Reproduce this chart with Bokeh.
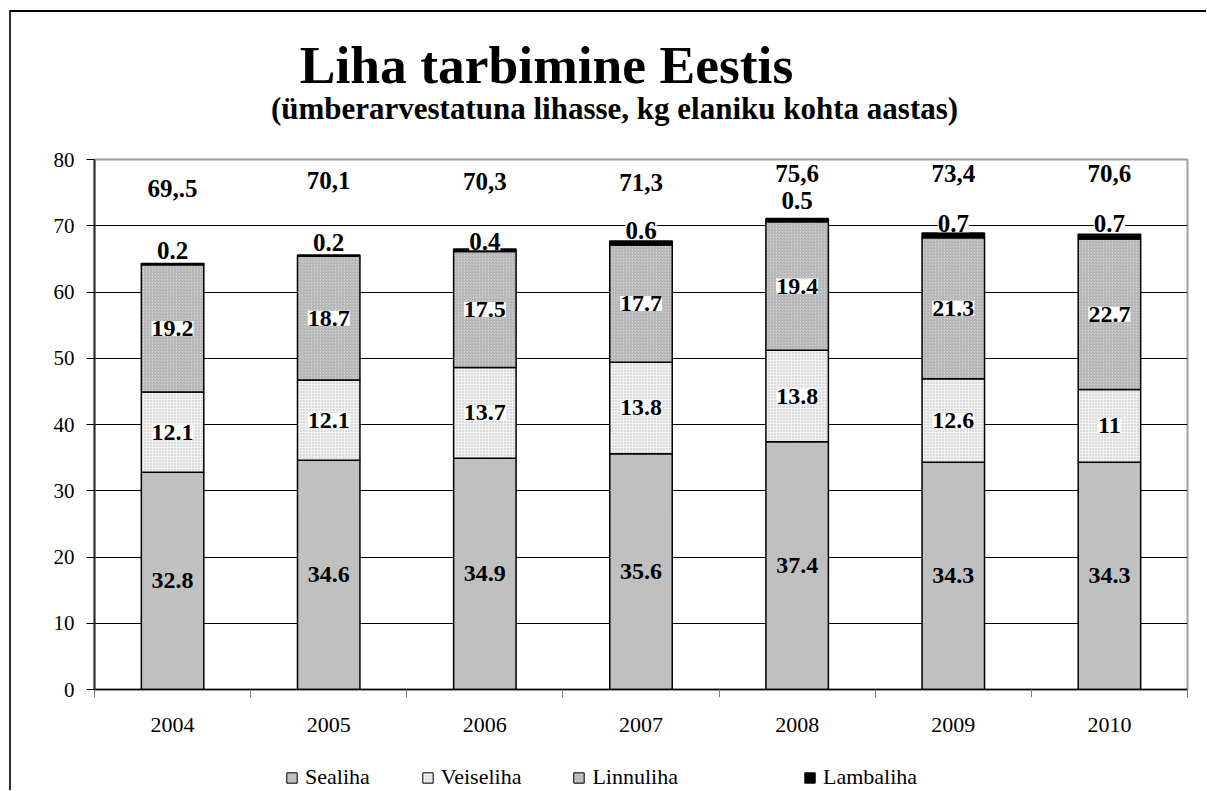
import numpy as np
from bokeh.plotting import figure
from bokeh.layouts import column
from bokeh.models import (Range1d, FixedTicker, ColumnDataSource, LabelSet, Label,
                          Legend, LegendItem)
from bokeh.core.properties import value
from bokeh.embed import file_html
from bokeh.resources import INLINE

# ---------------- data ----------------
years = ["2004", "2005", "2006", "2007", "2008", "2009", "2010"]
sealiha = [32.8, 34.6, 34.9, 35.6, 37.4, 34.3, 34.3]
veiseliha = [12.1, 12.1, 13.7, 13.8, 13.8, 12.6, 11]
linnuliha = [19.2, 18.7, 17.5, 17.7, 19.4, 21.3, 22.7]
lambaliha = [0.2, 0.2, 0.4, 0.6, 0.5, 0.7, 0.7]
total_labels = ["69,.5", "70,1", "70,3", "71,3", "75,6", "73,4", "70,6"]
series_names = ["Sealiha", "Veiseliha", "Linnuliha", "Lambaliha"]
y_ticks = [0, 10, 20, 30, 40, 50, 60, 70, 80]

# label placement (value axis units) as in the original chart
total_label_y = [75.6, 76.8, 76.7, 76.5, 77.9, 77.9, 77.9]
lamb_label_y = [66.3, 67.5, 67.6, 69.3, 73.8, 70.3, 70.3]

title_text = "Liha tarbimine Eestis"
subtitle_text = "(ümberarvestatuna lihasse, kg elaniku kohta aastas)"

FONT = "Liberation Serif"
W = 1195            # common width of the stacked panels
X0, Y0 = 11, 12     # page position of the content (after margin + border)
BL, BR = 83, 19     # left / right borders (frame spans page x 94..1187)
FX0, FX1 = X0 + BL, X0 + W - BR

# ---------------- derived ----------------
xs = [i + 0.5 for i in range(len(years))]
vals = [sealiha, veiseliha, linnuliha, lambaliha]
bottoms = np.cumsum([[0] * len(years)] + vals[:-1], axis=0)
mids = [list(np.array(b) + np.array(v) / 2) for b, v in zip(bottoms, vals)]
fmt = lambda v: f"{v:g}"

fills = ["#c0c0c0", "#f2f2f2", "#d2d2d2", "#000000"]
hatches = [" ", "dot", "right_diagonal_line", " "]
hcolors = ["#c0c0c0", "#b8b8b8", "#a0a0a0", "#000000"]
hscales = [4, 3, 3, 4]
hweights = [1, 1, 0.8, 1]


def blank_fig(h, y_top):
    f = figure(width=W, height=h, x_range=Range1d(FX0, FX1), y_range=Range1d(y_top + h, y_top),
               output_backend="svg", toolbar_location=None, title=None,
               x_axis_location=None, y_axis_location=None,
               min_border_left=BL, min_border_right=BR, min_border_top=0, min_border_bottom=0)
    f.grid.visible = False
    f.outline_line_color = None
    f.background_fill_color = "white"
    f.border_fill_color = "white"
    return f


# ---------------- header (titles) ----------------
H_HEAD = 132
head = blank_fig(H_HEAD, Y0)
HB = Y0 + H_HEAD   # page y of the header's bottom edge
head.add_layout(Label(x=546, y=HB - 64, y_units="screen", text=title_text, text_font=FONT,
                      text_font_size="53.5px", text_font_style="bold", text_align="center",
                      text_baseline="alphabetic", text_color="black"))
head.add_layout(Label(x=614, y=HB - 108, y_units="screen", text=subtitle_text, text_font=FONT,
                      text_font_size="31px", text_font_style="bold", text_align="center",
                      text_baseline="alphabetic", text_color="black"))

# ---------------- main chart ----------------
src = ColumnDataSource(dict(x=xs, Sealiha=sealiha, Veiseliha=veiseliha,
                            Linnuliha=linnuliha, Lambaliha=lambaliha))

H_MAIN = 15 + 530 + 52
p = figure(width=W, height=H_MAIN, x_range=Range1d(0, len(years)), y_range=Range1d(0, 80),
           output_backend="svg", toolbar_location=None,
           min_border_left=BL, min_border_right=BR, min_border_top=15, min_border_bottom=52)
p.title.visible = False
p.background_fill_color = "white"
p.border_fill_color = "white"
p.outline_line_color = "#a0a0a0"
p.outline_line_width = 2

p.vbar_stack(series_names, x="x", width=0.4, source=src,
             fill_color=fills, hatch_pattern=hatches, hatch_color=hcolors,
             hatch_scale=hscales, hatch_weight=hweights,
             line_color="black", line_width=1.5)

p.yaxis.ticker = FixedTicker(ticks=y_ticks)
p.yaxis.major_tick_out = 8
p.yaxis.major_tick_in = 0
p.yaxis.minor_tick_out = 0
p.yaxis.minor_tick_in = 0
p.yaxis.axis_line_color = "#303030"
p.yaxis.axis_line_width = 2
p.yaxis.major_tick_line_color = "black"
p.yaxis.major_label_text_font = FONT
p.yaxis.major_label_text_font_size = "21px"
p.yaxis.major_label_text_color = "black"
p.yaxis.major_label_standoff = 12

p.xaxis.ticker = FixedTicker(ticks=xs, minor_ticks=list(range(len(years) + 1)))
p.xaxis.major_label_overrides = {x: y for x, y in zip(xs, years)}
p.xaxis.major_tick_out = 0
p.xaxis.major_tick_in = 0
p.xaxis.minor_tick_out = 8
p.xaxis.minor_tick_in = 0
p.xaxis.minor_tick_line_color = "#808080"
p.xaxis.axis_line_color = "black"
p.xaxis.axis_line_width = 1.5
p.xaxis.major_label_text_font = FONT
p.xaxis.major_label_text_font_size = "22px"
p.xaxis.major_label_text_color = "black"
p.xaxis.major_label_standoff = 20

p.xgrid.visible = False
p.ygrid.ticker = FixedTicker(ticks=y_ticks[1:-1])
p.ygrid.grid_line_color = "black"
p.ygrid.grid_line_width = 1

lab_common = dict(text_font=value(FONT), text_font_size="24px", text_font_style="bold",
                  text_align="center", text_baseline="middle", text_color="black")
for i, name in enumerate(series_names[:3]):
    s = ColumnDataSource(dict(x=xs, y=mids[i], t=[fmt(v) for v in vals[i]]))
    kw = dict(lab_common)
    if i > 0:
        kw.update(background_fill_color="white")
    p.add_layout(LabelSet(x="x", y="y", text="t", source=s, **kw))

ls = ColumnDataSource(dict(x=xs, y=lamb_label_y, t=[fmt(v) for v in lambaliha]))
p.add_layout(LabelSet(x="x", y="y", text="t", source=ls, background_fill_color="white",
                      **{**lab_common, "text_font_size": "25px"}))

ts = ColumnDataSource(dict(x=xs, y=total_label_y, t=total_labels))
p.add_layout(LabelSet(x="x", y="y", text="t", source=ts, **{**lab_common, "text_font_size": "25px"}))

# ---------------- legend strip ----------------
Y_LEG = Y0 + H_HEAD + H_MAIN
H_LEG = 790 - Y_LEG
leg_fig = blank_fig(H_LEG, Y_LEG)
nan = float("nan")
proxies = [leg_fig.vbar(x=[nan], top=[nan], width=1, fill_color=fc, hatch_pattern=hp, hatch_color=hc,
                        hatch_scale=hs, hatch_weight=hw, line_color="black", line_width=1)
           for fc, hp, hc, hs, hw in zip(fills, hatches, hcolors, hscales, hweights)]
leg_kw = dict(orientation="horizontal", glyph_width=13, glyph_height=13, label_standoff=7,
              spacing=51, padding=0, margin=0, border_line_color=None,
              background_fill_alpha=0, label_text_font=FONT, label_text_font_size="22px",
              label_text_color="black")
leg1 = Legend(items=[LegendItem(label=n, renderers=[r]) for n, r in zip(series_names[:3], proxies[:3])],
              location=(285 - FX0, 0), **leg_kw)
leg2 = Legend(items=[LegendItem(label=series_names[3], renderers=[proxies[3]])],
              location=(803 - FX0, 0), **leg_kw)
leg_fig.add_layout(leg1)
leg_fig.add_layout(leg2)

layout = column(head, p, leg_fig, spacing=0)
layout.styles = {"margin-left": "9px", "margin-top": "10px",
                 "border-left": "2px solid #303030", "border-top": "2px solid #000000"}

open("out.html", "w").write(file_html(layout, INLINE))
